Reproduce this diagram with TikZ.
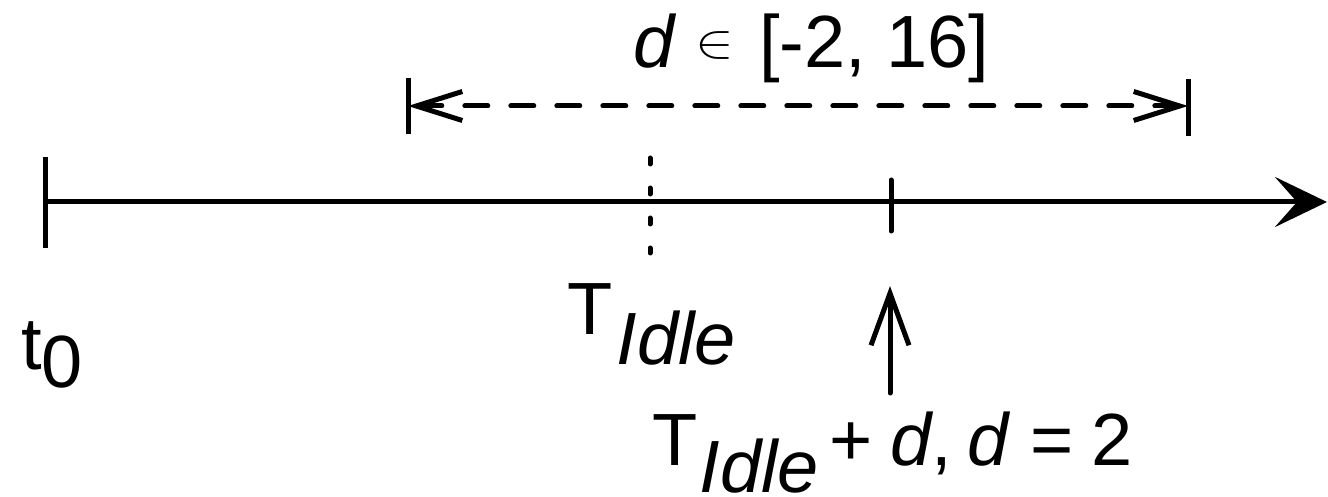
\documentclass[tikz,border=0pt]{standalone}
\usepackage{fontspec}
\usepackage{graphicx}
\setmainfont{Liberation Sans}
\usetikzlibrary{arrows.meta}
\newcommand{\elemsym}{\raisebox{5.25pt}{\fontsize{10}{12}\selectfont\scalebox{2.9}[2.4]{$\in$}}}
\begin{document}
\begin{tikzpicture}[x=0.5pt,y=-0.5pt,
  axis/.style={line width=2.5pt},
  lbl/.style={inner sep=0pt,anchor=base west,font=\fontsize{37}{44}\selectfont},
  ibarb/.tip={Straight Barb[length=23pt,width=14.5pt]},
  ]
\useasboundingbox (0,0) rectangle (1328,497);
% main axis
\coordinate (t0) at (45,202);
\coordinate (tend) at (1327,202);
\draw[axis,-{Stealth[length=26pt,width=25pt,inset=11pt]}] (t0) -- (tend);
% t0 tick
\coordinate (t0top) at (45,157);
\coordinate (t0bot) at (45,248);
\draw[axis] (t0top) -- (t0bot);
% dotted tick at T_Idle
\coordinate (idtop) at (650,158);
\coordinate (idbot) at (650,253);
\draw[axis,line cap=round,dash pattern=on 3pt off 12pt] (idtop) -- (idbot);
% solid tick at T_Idle + d
\coordinate (tdtop) at (891,180);
\coordinate (tdbot) at (891,231);
\draw[axis,line cap=round] (tdtop) -- (tdbot);
% interval ticks
\coordinate (lt) at (408,78);
\coordinate (lb) at (408,134);
\coordinate (rt) at (1188,79);
\coordinate (rb) at (1188,136);
\draw[axis] (lt) -- (lb);
\draw[axis] (rt) -- (rb);
% dashed interval
\coordinate (il) at (408,106);
\coordinate (ir) at (1188,106);
\draw[axis,line cap=round,dash pattern=on 11.5pt off 11.5pt,ibarb-ibarb] (il) -- (ir);
% upward arrow
\coordinate (ubot) at (890,393);
\coordinate (utop) at (890,286);
\draw[axis,line cap=round,-{Straight Barb[length=26pt,width=19pt]}] (ubot) -- (utop);
% labels
\node[lbl] (lint) at (633,68) {\textit{d}\kern9.5pt\elemsym\kern12.5pt[-2, 16]};
\node[lbl] (lt0) at (21,370) {t\raisebox{-9pt}{0}};
\node[lbl] (lidle) at (567,335) {T\kern2pt\raisebox{-15pt}{\itshape Idle}};
\node[lbl] (lidled) at (652,465) {T\kern1pt\raisebox{-13.5pt}{\itshape Idle}\kern5.4pt+\kern8.75pt\textit{d},\kern7.6pt\textit{d}\kern10pt=\kern9.15pt2};
\end{tikzpicture}
\end{document}
